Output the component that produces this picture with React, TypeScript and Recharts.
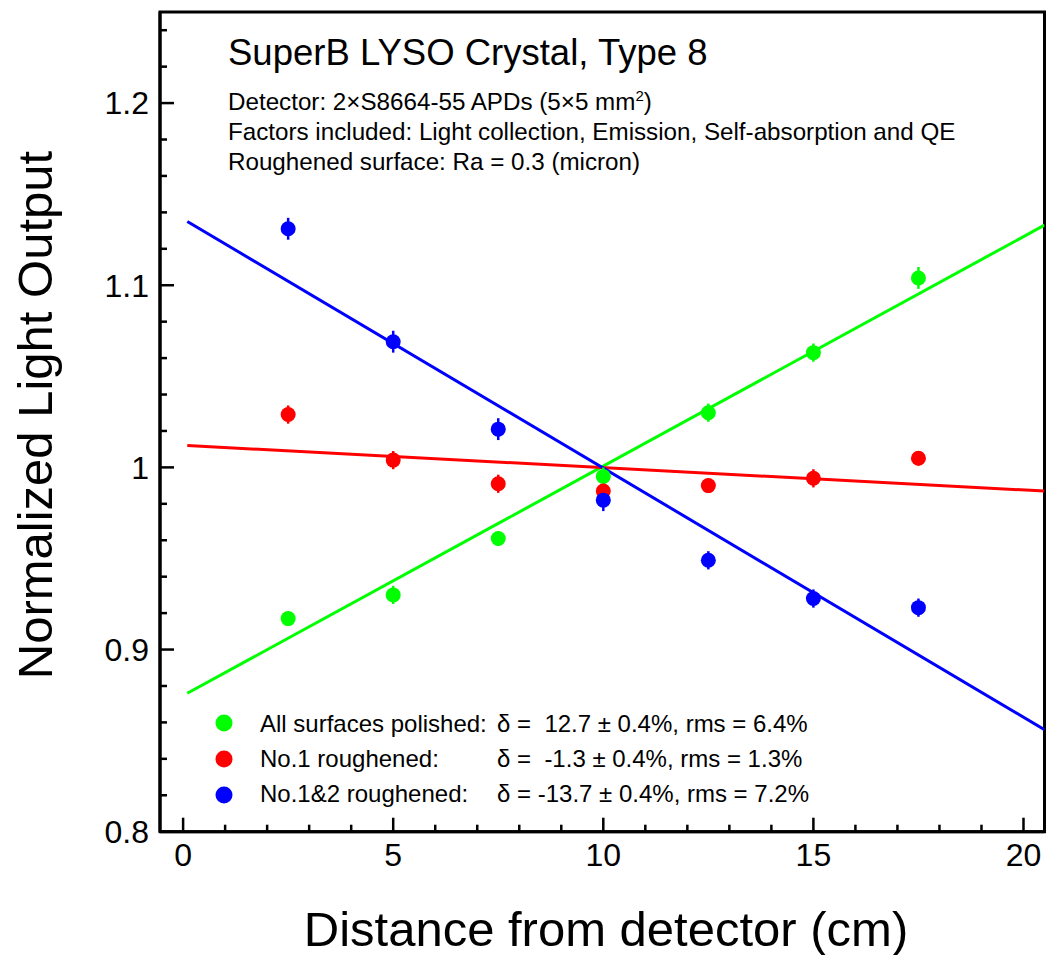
import React from 'react';
import {
  ComposedChart,
  Line,
  Scatter,
  XAxis,
  YAxis,
  ErrorBar,
  Customized,
} from 'recharts';

// ---- data ----
const positions = [2.5, 5, 7.5, 10, 12.5, 15, 17.5];
const polished = [0.917, 0.93, 0.961, 0.995, 1.03, 1.063, 1.104];
const polishedErr = [0.004, 0.005, 0.004, 0.005, 0.005, 0.005, 0.006];
const rough1 = [1.029, 1.004, 0.991, 0.987, 0.99, 0.994, 1.005];
const rough1Err = [0.005, 0.005, 0.005, 0.005, 0.004, 0.005, 0.004];
const rough12 = [1.131, 1.069, 1.021, 0.982, 0.949, 0.928, 0.923];
const rough12Err = [0.006, 0.006, 0.006, 0.006, 0.005, 0.005, 0.005];

const fitX = [0.1, 20.5];
const polishedFit = [0.876, 1.133];
const rough1Fit = [1.012, 0.987];
const rough12Fit = [1.135, 0.856];

const xMajorTicks = [0, 5, 10, 15, 20];
const xMinorTicks = [1, 2, 3, 4, 6, 7, 8, 9, 11, 12, 13, 14, 16, 17, 18, 19];
const yMajorTicks = [0.8, 0.9, 1, 1.1, 1.2];
const yMajorLabels = ['0.8', '0.9', '1', '1.1', '1.2'];
const yMinorTicks = [0.82, 0.84, 0.86, 0.88, 0.92, 0.94, 0.96, 0.98, 1.02, 1.04, 1.06, 1.08, 1.12, 1.14, 1.16, 1.18, 1.22, 1.24];

const seriesNames = ['All surfaces polished:', 'No.1 roughened:', 'No.1&2 roughened:'];
const seriesStats = ['\u03b4 =  12.7 \u00b1 0.4%, rms = 6.4%', '\u03b4 =  -1.3 \u00b1 0.4%, rms = 1.3%', '\u03b4 = -13.7 \u00b1 0.4%, rms = 7.2%'];
const seriesColors = ['#00ff00', '#ff0000', '#0000ff'];

const titleText = 'SuperB LYSO Crystal, Type 8';
const infoLines = [
  'Factors included: Light collection, Emission, Self-absorption and QE',
  'Roughened surface: Ra = 0.3 (micron)',
];

const X_DOMAIN: [number, number] = [-0.55, 20.5];
const Y_DOMAIN: [number, number] = [0.8, 1.25];

// layout (page pixels; chart is placed at the page's top-left corner)
const CHART_W = 1046;
const CHART_H = 955;
const MARGIN = { top: 12, right: 1.5, left: 0, bottom: 0 };
const Y_AXIS_W = 160;
const X_AXIS_H = 123.3;

const FONT = '"Liberation Sans", Arial, Helvetica, sans-serif';

const pts = (ys: number[], errs: number[]) => positions.map((x, i) => ({ x, y: ys[i], err: errs[i] }));
const fit = (ys: number[]) => fitX.map((x, i) => ({ x, y: ys[i] }));

const greenPts = pts(polished, polishedErr);
const redPts = pts(rough1, rough1Err);
const bluePts = pts(rough12, rough12Err);

const YTick = (props: any) => {
  const { x, y, payload } = props;
  const v = payload.value;
  const idx = yMajorTicks.findIndex((m) => Math.abs(m - v) < 1e-9);
  const major = idx >= 0;
  const axisX = x + 11;
  return (
    <g>
      <line x1={axisX} x2={axisX + (major ? 14 : 7)} y1={y} y2={y} stroke="#000" strokeWidth={2.5} />
      {major && (
        <text x={x} y={y} dy="0.355em" textAnchor="end" fontFamily={FONT} fontSize={32} fill="#000">
          {yMajorLabels[idx]}
        </text>
      )}
    </g>
  );
};

const XTick = (props: any) => {
  const { x, y, payload } = props;
  const v = payload.value;
  const major = xMajorTicks.includes(v);
  const axisY = y - 12;
  return (
    <g>
      <line x1={x} x2={x} y1={axisY} y2={axisY - (major ? 14 : 7)} stroke="#000" strokeWidth={2.5} />
      {major && (
        <text x={x} y={y} dy="0.71em" textAnchor="middle" fontFamily={FONT} fontSize={32} fill="#000">
          {String(v)}
        </text>
      )}
    </g>
  );
};

const Dot = (props: any) => {
  const { cx, cy, fill } = props;
  if (cx == null || cy == null) return null;
  return <circle cx={cx} cy={cy} r={7.5} fill={fill} />;
};

const plotLeft = MARGIN.left + Y_AXIS_W;
const plotRight = CHART_W - MARGIN.right;
const plotTop = MARGIN.top;
const plotBottom = CHART_H - MARGIN.bottom - X_AXIS_H;

const Annotations = () => (
  <g fontFamily={FONT} fill="#000">
    <rect
      x={plotLeft}
      y={plotTop}
      width={plotRight - plotLeft}
      height={plotBottom - plotTop}
      fill="none"
      stroke="#000"
      strokeWidth={3}
    />
    <text x={228} y={65} fontSize={36.5}>{titleText}</text>
    <text x={228} y={110} fontSize={24.2}>
      Detector: 2{'\u00d7'}S8664-55 APDs (5{'\u00d7'}5 mm
      <tspan dy={-9} fontSize={15}>2</tspan>
      <tspan dy={9}>)</tspan>
    </text>
    {infoLines.map((t, i) => (
      <text key={t} x={228} y={140 + i * 30} fontSize={24.2}>{t}</text>
    ))}
    {seriesNames.map((n, i) => (
      <g key={n}>
        <circle cx={224} cy={723 + i * 36} r={8.5} fill={seriesColors[i]} />
        <text x={260} y={732 + i * 35} fontSize={24}>{n}</text>
        <text x={497} y={732 + i * 35} fontSize={24} style={{ whiteSpace: 'pre' }}>{seriesStats[i]}</text>
      </g>
    ))}
    <text x={606} y={946} fontSize={49} textAnchor="middle">Distance from detector (cm)</text>
    <text x={52} y={415} fontSize={49} textAnchor="middle" transform="rotate(-90, 52, 415)">
      Normalized Light Output
    </text>
  </g>
);

export default function App() {
  return (
    <div style={{ position: 'absolute', left: 0, top: 0, width: CHART_W, height: CHART_H, background: '#fff' }}>
      <ComposedChart width={CHART_W} height={CHART_H} margin={MARGIN}>
        <XAxis
          type="number"
          dataKey="x"
          domain={X_DOMAIN}
          ticks={[...xMajorTicks, ...xMinorTicks].sort((a, b) => a - b)}
          interval={0}
          height={X_AXIS_H}
          tickSize={0}
          tickMargin={12}
          tickLine={false}
          axisLine={{ stroke: '#000', strokeWidth: 3 }}
          tick={<XTick />}
          allowDataOverflow
        />
        <YAxis
          type="number"
          dataKey="y"
          domain={Y_DOMAIN}
          ticks={[...yMajorTicks, ...yMinorTicks].sort((a, b) => a - b)}
          interval={0}
          width={Y_AXIS_W}
          tickSize={0}
          tickMargin={11}
          tickLine={false}
          axisLine={{ stroke: '#000', strokeWidth: 3 }}
          tick={<YTick />}
          allowDataOverflow
        />
        <Line data={fit(polishedFit)} dataKey="y" type="linear" stroke={seriesColors[0]} strokeWidth={3} dot={false} isAnimationActive={false} />
        <Line data={fit(rough1Fit)} dataKey="y" type="linear" stroke={seriesColors[1]} strokeWidth={3} dot={false} isAnimationActive={false} />
        <Line data={fit(rough12Fit)} dataKey="y" type="linear" stroke={seriesColors[2]} strokeWidth={3} dot={false} isAnimationActive={false} />
        <Scatter data={greenPts} dataKey="y" fill={seriesColors[0]} shape={<Dot />} isAnimationActive={false}>
          <ErrorBar dataKey="err" direction="y" width={0} stroke={seriesColors[0]} strokeWidth={2.5} />
        </Scatter>
        <Scatter data={redPts} dataKey="y" fill={seriesColors[1]} shape={<Dot />} isAnimationActive={false}>
          <ErrorBar dataKey="err" direction="y" width={0} stroke={seriesColors[1]} strokeWidth={2.5} />
        </Scatter>
        <Scatter data={bluePts} dataKey="y" fill={seriesColors[2]} shape={<Dot />} isAnimationActive={false}>
          <ErrorBar dataKey="err" direction="y" width={0} stroke={seriesColors[2]} strokeWidth={2.5} />
        </Scatter>
        <Customized component={<Annotations />} />
      </ComposedChart>
    </div>
  );
}
